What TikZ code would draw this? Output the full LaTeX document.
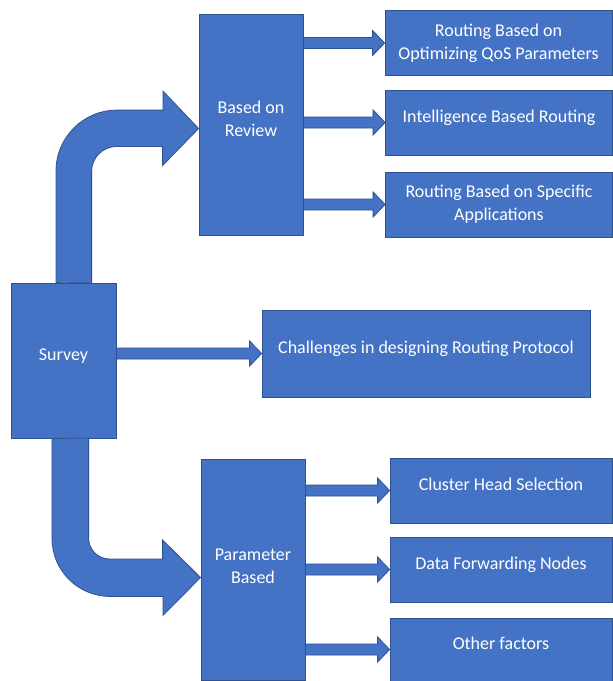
\documentclass[tikz,border=0pt]{standalone}
\usepackage{fontspec}
\setmainfont{Carlito}
\usetikzlibrary{calc}

\definecolor{boxblue}{HTML}{4472C4}
\definecolor{boxline}{HTML}{2F528F}

% straight block arrow from #1 to the tip #2 (same height)
\newcommand{\flowarrow}[2]{%
  \filldraw[blockarrow] let \p1=(#1), \p2=(#2) in
    (\x1,\y1+5.5pt) -- (\x2-12pt,\y1+5.5pt) -- (\x2-12pt,\y1+12.5pt) -- (\x2,\y1)
    -- (\x2-12pt,\y1-12.5pt) -- (\x2-12pt,\y1-5.5pt) -- (\x1,\y1-5.5pt) -- cycle;}

\begin{document}
\begin{tikzpicture}[
      x=1pt, y=-1pt,
      box/.style={draw=boxline, fill=boxblue, text=white, align=center, inner sep=2pt,
        line width=0.8pt, font=\fontsize{18}{23}\selectfont,
        execute at end node={\rule[-#1]{0pt}{#1}}},
      box/.default=12pt,
      leaf/.style={box=#1, minimum width=227pt, minimum height=65pt},
      leaf/.default=12pt,
      blockarrow/.style={draw=boxline, fill=boxblue, line width=0.8pt, line join=miter}
    ]
    \fill[white] (0,0) rectangle (613,681);
    \useasboundingbox (0,0) rectangle (613,681);

    % Main boxes
    \node[box, minimum width=105pt, minimum height=155pt] (survey) at (63.5,360.5) {Survey};
    \node[box, minimum width=104pt, minimum height=221pt] (review) at (251,124.5) {Based on\\Review};
    \node[box=6pt, minimum width=104pt, minimum height=221pt] (param) at (253,569.5) {Parameter\\Based};
    \node[box, minimum width=328pt, minimum height=87pt] (challenge) at (426,353.5) {Challenges in designing Routing Protocol};

    % Review branches
    \node[leaf=0pt] (qos) at (498.5,43) {Routing Based on\\Optimizing QoS Parameters};
    \node[leaf] (intel) at (499,122.5) {Intelligence Based Routing};
    \node[leaf=0pt] (apps) at (499,204.5) {Routing Based on Specific\\Applications};

    % Parameter branches
    \node[leaf, minimum width=222pt] (chs) at (501,490.5) {Cluster Head Selection};
    \node[leaf, minimum width=222pt] (fwd) at (501,569.5) {Data Forwarding Nodes};
    \node[leaf, minimum width=222pt, minimum height=63pt] (other) at (501,649.5) {Other factors};

    % Bent arrows out of the survey
    \filldraw[blockarrow] ([xshift=-7.5pt]survey.north) -- ++(0,-111.5)
      arc[start angle=180, end angle=270, radius=61] -- ++(46,0) -- ++(0,-19)
      -- ($(review.west)+(0,4)$) -- ++(-36,37) -- ++(0,-19) -- ++(-46,0)
      arc[start angle=270, end angle=180, radius=25] -- ++(0,111.5) -- cycle;
    \filldraw[blockarrow] ([xshift=-11.5pt]survey.south) -- ++(0,100)
      arc[start angle=180, end angle=90, radius=58] -- ++(53,0) -- ++(0,19)
      -- ($(param.west)+(0,8)$) -- ++(-38,-37.5) -- ++(0,19) -- ++(-53,0)
      arc[start angle=90, end angle=180, radius=21] -- ++(0,-100) -- cycle;

    % Straight arrows
    \flowarrow{survey.east |- challenge.west}{challenge.west}
    \foreach \leafname in {qos, intel, apps}
      {\flowarrow{review.east |- \leafname.west}{\leafname.west}}
    \foreach \leafname in {chs, fwd, other}
      {\flowarrow{param.east |- \leafname.west}{\leafname.west}}
  \end{tikzpicture}
\end{document}
